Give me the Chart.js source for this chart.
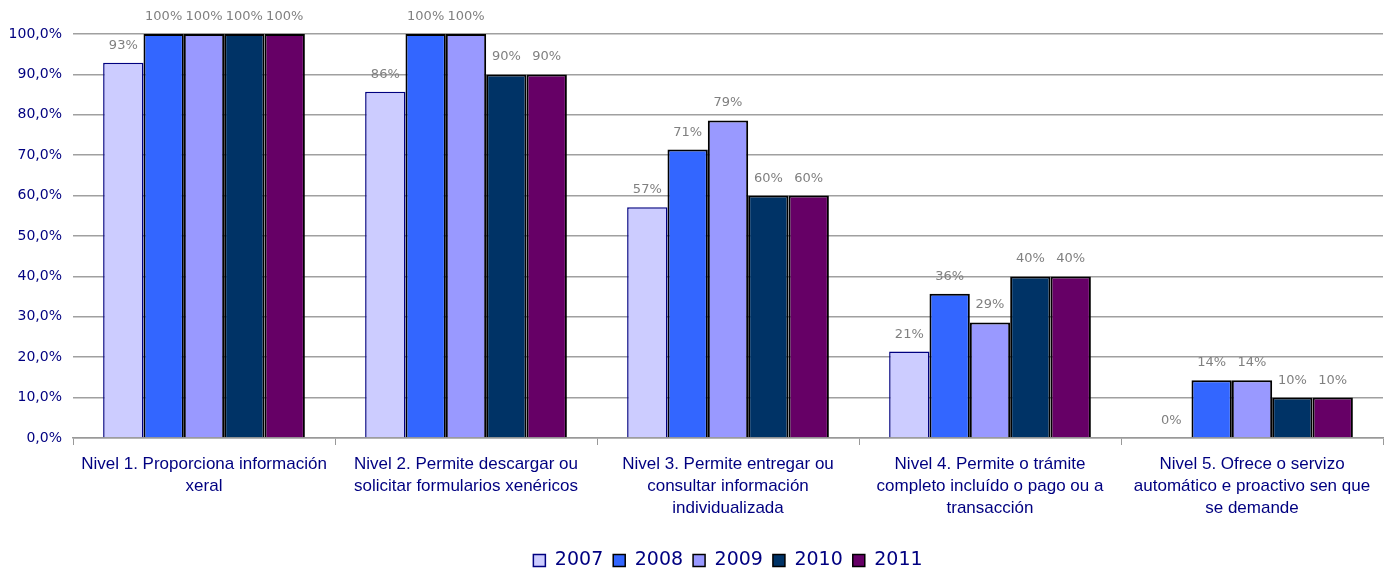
<!DOCTYPE html>
<html>
<head>
<meta charset="utf-8">
<script src="https://cdn.jsdelivr.net/npm/chart.js@4"></script>
<style>
  html, body { margin: 0; padding: 0; background: #fff; }
  #wrap { width: 1391px; height: 573px; }
</style>
</head>
<body>
<div id="wrap"><canvas id="chart" width="1391" height="573"></canvas></div>
<script>
// categories (multi-line labels as in the picture)
var niveis = [
  ['Nivel 1. Proporciona información', 'xeral'],
  ['Nivel 2. Permite descargar ou', 'solicitar formularios xenéricos'],
  ['Nivel 3. Permite entregar ou', 'consultar información', 'individualizada'],
  ['Nivel 4. Permite o trámite', 'completo incluído o pago ou a', 'transacción'],
  ['Nivel 5. Ofrece o servizo', 'automático e proactivo sen que', 'se demande']
];
var anos = ['2007', '2008', '2009', '2010', '2011'];

// values in %
var v2007 = [92.9, 85.7, 57.1, 21.4, 0];
var v2008 = [100, 100, 71.4, 35.7, 14.3];
var v2009 = [100, 100, 78.6, 28.6, 14.3];
var v2010 = [100, 90, 60, 40, 10];
var v2011 = [100, 90, 60, 40, 10];

var yTicks = [0, 10, 20, 30, 40, 50, 60, 70, 80, 90, 100];

var fills = ['#CCCCFF', '#3366FF', '#9999FF', '#003366', '#660066'];
var borders = ['#000080', '#000000', '#000000', '#000000', '#000000'];
var series = [v2007, v2008, v2009, v2010, v2011];

var datasets = series.map(function (vals, i) {
  return {
    label: anos[i],
    data: vals,
    backgroundColor: fills[i],
    borderColor: borders[i],
    borderWidth: i === 0 ? 1.5 : 2,
    barPercentage: 1.0,
    categoryPercentage: 0.77
  };
});

// percentage labels above bars
var valueLabels = {
  id: 'valueLabels',
  afterDatasetsDraw: function (chart) {
    var ctx = chart.ctx;
    ctx.save();
    ctx.font = '13px "DejaVu Sans"';
    ctx.fillStyle = '#808080';
    ctx.textAlign = 'center';
    ctx.textBaseline = 'alphabetic';
    chart.data.datasets.forEach(function (ds, i) {
      var meta = chart.getDatasetMeta(i);
      meta.data.forEach(function (bar, j) {
        ctx.fillText(Math.round(ds.data[j]) + '%', bar.x, bar.y - 14);
      });
    });
    ctx.restore();
  }
};

new Chart(document.getElementById('chart'), {
  type: 'bar',
  data: { labels: niveis, datasets: datasets },
  plugins: [valueLabels],
  options: {
    responsive: false,
    animation: false,
    layout: { padding: { top: 34, right: 8, left: 0, bottom: -7 } },
    plugins: {
      legend: {
        position: 'bottom',
        fullSize: false,
        labels: {
          color: '#000080',
          font: { family: '"DejaVu Sans"', size: 19 },
          boxWidth: 12,
          boxHeight: 12,
          padding: 10,
          generateLabels: function (chart) {
            return chart.data.datasets.map(function (ds, i) {
              return {
                text: ds.label,
                fillStyle: ds.backgroundColor,
                strokeStyle: ds.borderColor,
                lineWidth: 1.5,
                fontColor: '#000080',
                datasetIndex: i
              };
            });
          }
        }
      },
      tooltip: { enabled: false }
    },
    scales: {
      x: {
        grid: {
          offset: true,
          drawOnChartArea: false,
          drawTicks: true,
          tickLength: 7,
          color: '#999999'
        },
        border: { display: true, color: '#999999', width: 1.5 },
        ticks: {
          color: '#000080',
          font: { family: '"Liberation Sans"', size: 17, lineHeight: 1.3 },
          padding: 8,
          maxRotation: 0,
          autoSkip: false
        },
        afterFit: function (scale) { scale.height = 103; }
      },
      y: {
        min: 0,
        max: 100,
        afterBuildTicks: function (scale) {
          scale.ticks = yTicks.map(function (v) { return { value: v }; });
        },
        grid: { color: '#a0a0a0', lineWidth: 1.5, drawTicks: false },
        border: { display: false },
        ticks: {
          color: '#000080',
          font: { family: '"DejaVu Sans"', size: 14 },
          padding: 11,
          callback: function (v) { return v.toFixed(1).replace('.', ',') + '%'; }
        },
        afterFit: function (scale) { scale.width = 73; }
      }
    }
  }
});
</script>
</body>
</html>
